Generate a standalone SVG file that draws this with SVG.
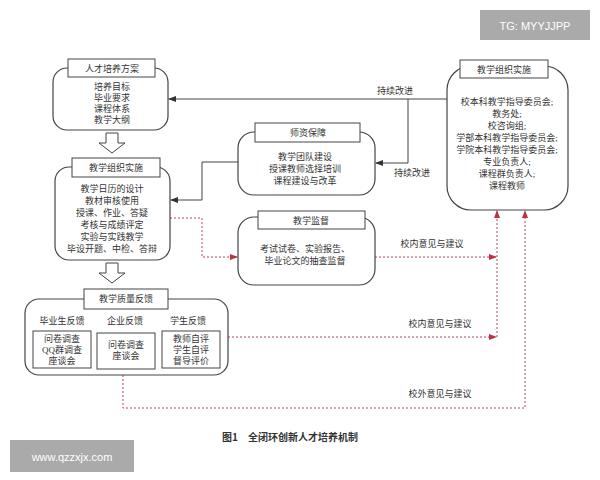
<svg xmlns="http://www.w3.org/2000/svg" width="600" height="480" viewBox="0 0 600 480">
<style>
text{font-family:"Liberation Serif","Noto Sans CJK SC",serif;font-size:9px;fill:#333;text-anchor:middle}
.box{fill:#fff;stroke:#444;stroke-width:1.2}
.tt{fill:#fff;stroke:#444;stroke-width:1}
.ln{fill:none;stroke:#444;stroke-width:1}
.rd{fill:none;stroke:#c04050;stroke-width:1;stroke-dasharray:2,2}
</style>
<defs>
<marker id="ab" markerWidth="8" markerHeight="6" refX="7" refY="3" orient="auto"><path d="M0,0L8,3L0,6z" fill="#333"/></marker>
<marker id="ar" markerWidth="8" markerHeight="6" refX="7" refY="3" orient="auto"><path d="M0,0L8,3L0,6z" fill="#c03040"/></marker>
</defs>
<rect width="600" height="480" fill="#fff"/>
<g id="connectors">
<path class="ln" d="M447,99H169" marker-end="url(#ab)"/>
<path class="ln" d="M408,99V163H376" marker-end="url(#ab)"/>
<path class="ln" d="M238,162H202V200H171" marker-end="url(#ab)"/>
<path class="rd" d="M170,218H202V257H237" marker-end="url(#ar)"/>
<path class="rd" d="M375,257H496" marker-end="url(#ar)"/>
<path class="rd" d="M228,337H496" marker-end="url(#ar)"/>
<path class="rd" d="M497,337V211" marker-end="url(#ar)"/>
<path class="rd" d="M123,375V408H525V211" marker-end="url(#ar)"/>
<path d="M106,133h12v10h7l-13,10l-13,-10h7z" fill="#fff" stroke="#444"/>
<path d="M106,263h12v10h7l-13,10l-13,-10h7z" fill="#fff" stroke="#444"/>
<text x="395" y="94">持续改进</text>
<text x="412" y="176">持续改进</text>
<text x="432" y="247">校内意见与建议</text>
<text x="440" y="327">校内意见与建议</text>
<text x="440" y="397">校外意见与建议</text>
</g>
<g id="n1">
<rect class="box" x="53" y="68" width="115" height="62" rx="14"/>
<rect class="tt" x="68" y="59" width="87" height="18"/>
<text x="112" y="72">人才培养方案</text>
<text x="112" y="90">培养目标</text><text x="112" y="101">毕业要求</text><text x="112" y="112">课程体系</text><text x="112" y="123">教学大纲</text>
</g>
<g id="n2">
<rect class="box" x="55" y="167" width="115" height="93" rx="14"/>
<rect class="tt" x="72" y="158" width="88" height="19"/>
<text x="116" y="171">教学组织实施</text>
<text x="112" y="192">教学日历的设计</text><text x="112" y="204">教材审核使用</text><text x="112" y="216">授课、作业、答疑</text><text x="112" y="228">考核与成绩评定</text><text x="112" y="240">实验与实践教学</text><text x="112" y="252">毕设开题、中检、答辩</text>
</g>
<g id="n3">
<rect class="box" x="25" y="299" width="203" height="76" rx="14"/>
<rect class="tt" x="84" y="289" width="84" height="20"/>
<text x="126" y="302">教学质量反馈</text>
<text x="62" y="324">毕业生反馈</text><text x="125" y="324">企业反馈</text><text x="188" y="324">学生反馈</text>
<rect class="tt" x="33" y="331" width="58" height="37"/><rect class="tt" x="97" y="333" width="58" height="36"/><rect class="tt" x="162" y="331" width="58" height="37"/>
<text x="62" y="342">问卷调查</text><text x="62" y="353">QQ群调查</text><text x="62" y="364">座谈会</text>
<text x="126" y="348">问卷调查</text><text x="126" y="359">座谈会</text>
<text x="191" y="342">教师自评</text><text x="191" y="353">学生自评</text><text x="191" y="364">督导评价</text>
</g>
<g id="n4">
<rect class="box" x="238" y="132" width="137" height="63" rx="16"/>
<rect class="tt" x="255" y="123" width="105" height="19"/>
<text x="308" y="136">师资保障</text>
<text x="305" y="160">教学团队建设</text><text x="305" y="172">授课教师选择培训</text><text x="305" y="184">课程建设与改革</text>
</g>
<g id="n5">
<rect class="box" x="238" y="217" width="137" height="68" rx="16"/>
<rect class="tt" x="258" y="211" width="107" height="18"/>
<text x="311" y="224">教学监督</text>
<text x="305" y="252">考试试卷、实验报告、</text><text x="305" y="264">毕业论文的抽查监督</text>
</g>
<g id="n6">
<rect class="box" x="447" y="66" width="121" height="144" rx="24"/>
<rect class="tt" x="460" y="60" width="88" height="18"/>
<text x="504" y="73">教学组织实施</text>
<text x="507" y="105">校本科教学指导委员会;</text><text x="507" y="117">教务处;</text><text x="507" y="129">校咨询组;</text><text x="507" y="141">学部本科教学指导委员会;</text><text x="507" y="153">学院本科教学指导委员会;</text><text x="507" y="165">专业负责人;</text><text x="507" y="177">课程群负责人;</text><text x="507" y="189">课程教师</text>
</g>
<text x="290" y="441" style="font-family:'Noto Sans CJK SC',sans-serif;font-weight:bold;font-size:10px">图1　全闭环创新人才培养机制</text>
<rect x="480" y="10" width="110" height="30" fill="#aaa"/>
<text x="535" y="30" style="font-family:'Liberation Sans',sans-serif;font-size:11px;fill:#fff">TG: MYYJJPP</text>
<rect x="10" y="440" width="124" height="32" fill="#aaa"/>
<text x="72" y="461" style="font-family:'Liberation Sans',sans-serif;font-size:11px;fill:#fff">www.qzzxjx.com</text>
</svg>
